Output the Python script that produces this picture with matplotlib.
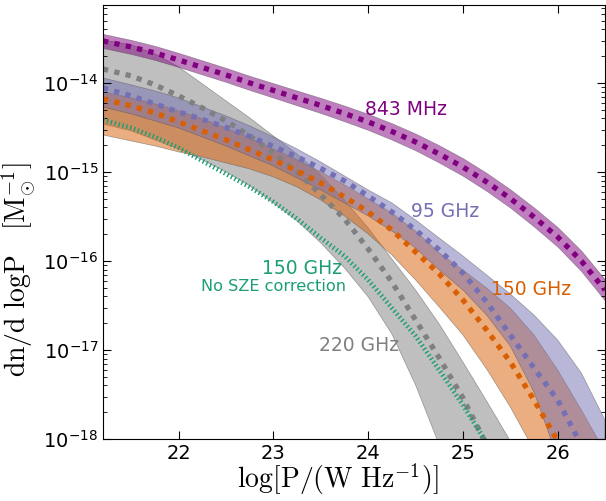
import numpy as np
import matplotlib
matplotlib.use("Agg")
import matplotlib.pyplot as plt
from matplotlib.colors import to_rgba

# ---- data (log10 of dn/dlogP) ----
logP = [21.2, 21.5, 21.75, 22.0, 22.25, 22.5, 22.75, 23.0, 23.25, 23.5, 23.75,
        24.0, 24.25, 24.5, 24.75, 25.0, 25.25, 25.5, 25.75, 26.0, 26.25, 26.5]

mhz843_mid = [-13.528, -13.596, -13.663, -13.742, -13.826, -13.910, -14.000, -14.084, -14.169, -14.253, -14.343,
              -14.438, -14.545, -14.663, -14.798, -14.944, -15.112, -15.298, -15.506, -15.730, -16.000, -16.326]
mhz843_hi = [-13.449, -13.517, -13.584, -13.663, -13.747, -13.831, -13.921, -14.003, -14.086, -14.168, -14.255,
             -14.348, -14.453, -14.569, -14.701, -14.845, -15.011, -15.195, -15.399, -15.620, -15.885, -16.207]
mhz843_lo = [-13.607, -13.675, -13.742, -13.821, -13.905, -13.989, -14.079, -14.165, -14.252, -14.338, -14.431,
             -14.528, -14.637, -14.757, -14.895, -15.043, -15.213, -15.401, -15.613, -15.840, -16.115, -16.445]

ghz95_mid = [-14.056, -14.146, -14.236, -14.326, -14.410, -14.500, -14.601, -14.713, -14.831, -14.961, -15.101,
             -15.270, -15.449, -15.652, -15.876, -16.135, -16.461, -16.831, -17.202, -17.562, -18.067, -18.629]
ghz95_hi = [-13.944, -14.022, -14.090, -14.169, -14.270, -14.371, -14.483, -14.607, -14.742, -14.888, -15.045,
            -15.202, -15.348, -15.539, -15.742, -15.944, -16.157, -16.371, -16.607, -16.888, -17.258, -17.787]
ghz95_lo = [-14.270, -14.348, -14.427, -14.506, -14.607, -14.708, -14.820, -14.933, -15.067, -15.202, -15.348,
            -15.494, -15.663, -15.854, -16.101, -16.326, -16.607, -16.955, -17.472, -18.213, -19.022, -20.034]

ghz150_mid = [-14.180, -14.258, -14.337, -14.438, -14.539, -14.640, -14.753, -14.865, -14.989, -15.124, -15.281,
              -15.449, -15.652, -15.899, -16.146, -16.438, -16.775, -17.135, -17.562, -18.022, -18.517, -19.079]
ghz150_hi = [-14.101, -14.169, -14.236, -14.315, -14.404, -14.506, -14.618, -14.742, -14.865, -15.000, -15.146,
             -15.303, -15.461, -15.663, -15.910, -16.101, -16.303, -16.528, -16.831, -17.225, -17.674, -18.146]
ghz150_lo = [-14.584, -14.652, -14.708, -14.775, -14.831, -14.899, -14.966, -15.056, -15.169, -15.315, -15.494,
             -15.697, -15.933, -16.213, -16.517, -16.831, -17.213, -17.640, -18.124, -18.652, -19.247, -19.921]

ghz220_mid = [-13.843, -13.921, -14.022, -14.146, -14.281, -14.427, -14.596, -14.787, -15.000, -15.258, -15.528,
              -15.865, -16.236, -16.663, -17.090, -17.539, -18.067, -18.629, -19.247, -19.921, -20.652, -21.438]
ghz220_hi = [-13.517, -13.573, -13.674, -13.820, -14.011, -14.202, -14.393, -14.596, -14.798, -15.034, -15.315,
             -15.629, -15.978, -16.326, -16.708, -17.135, -17.573, -18.022, -18.517, -19.022, -19.584, -20.202]
ghz220_lo = [-14.461, -14.539, -14.640, -14.742, -14.865, -15.000, -15.157, -15.348, -15.551, -15.798, -16.079,
             -16.404, -16.820, -17.393, -18.067, -18.798, -19.584, -20.483, -21.382, -22.281, -23.180, -24.079]

ghz150_nosze = [-14.416, -14.506, -14.607, -14.730, -14.876, -15.022, -15.169, -15.337, -15.528, -15.742, -15.944,
                -16.213, -16.528, -16.843, -17.225, -17.618, -18.045, -18.517, -19.022, -19.584, -20.202, -20.820]

# ---- styles ----
c_purple = "#800080"
c_blue = "#7570b3"
c_orange = "#d95f02"
c_grey = "#808080"
c_green = "#1b9e77"

fig = plt.figure(figsize=(6.06, 5.01), dpi=100)
ax = fig.add_axes([103/606, 1-439/501, (605-103)/606, (439-5)/501])

x = np.array(logP)
def p(a):
    return 10.0 ** np.array(a)

edge = (0.3, 0.3, 0.3, 0.5)
for lo, hi, c in [(ghz220_lo, ghz220_hi, c_grey),
                  (ghz150_lo, ghz150_hi, c_orange),
                  (ghz95_lo, ghz95_hi, c_blue),
                  (mhz843_lo, mhz843_hi, c_purple)]:
    ax.fill_between(x, p(lo), p(hi), facecolor=to_rgba(c, 0.5), edgecolor=edge, linewidth=0.5)

dots = dict(linewidth=3.8, dashes=(1.0, 1.2), dash_capstyle="butt")
ax.plot(x, p(ghz220_mid), color=c_grey, **dots)
ax.plot(x, p(ghz150_nosze), color=c_green, linewidth=3.4, dashes=(0.3, 0.55), dash_capstyle="butt")
ax.plot(x, p(ghz150_mid), color=c_orange, **dots)
ax.plot(x, p(ghz95_mid), color=c_blue, **dots)
ax.plot(x, p(mhz843_mid), color=c_purple, **dots)

ax.set_yscale("log")
ax.set_xlim(21.2, 26.5)
ax.set_ylim(1e-18, 10 ** -13.124)
ax.set_xticks([22, 23, 24, 25, 26])

ax.tick_params(which="both", direction="in", top=True, right=True, labelsize=14)
ax.tick_params(which="major", length=6, width=0.8)
ax.tick_params(which="minor", length=3, width=0.6)

lab = dict(fontsize=13.5, ha="center", va="center")
ax.text(24.40, 10 ** -14.303, "843 MHz", color=c_purple, **lab)
ax.text(24.81, 10 ** -15.449, "95 GHz", color=c_blue, **lab)
ax.text(25.716, 10 ** -16.315, "150 GHz", color=c_orange, **lab)
ax.text(23.905, 10 ** -16.955, "220 GHz", color=c_grey, **lab)
ax.text(23.305, 10 ** -16.09, "150 GHz", color=c_green, **lab)
ax.text(23.00, 10 ** -16.292, "No SZE correction", color=c_green, fontsize=11.6, ha="center", va="center")

ax.set_xlabel(r"$\log[\mathrm{P}/(\mathrm{W\ Hz}^{-1})]$", fontsize=20, math_fontfamily="cm")
ax.set_ylabel(r"$\mathrm{dn/d\ logP\ \ \ [M_{\odot}^{-1}]}$", fontsize=20, math_fontfamily="cm")
ax.xaxis.set_label_coords((338-103)/502, -0.052)
ax.yaxis.set_label_coords(-0.13, (439-270)/434)

fig.savefig("out.png", dpi=100)
